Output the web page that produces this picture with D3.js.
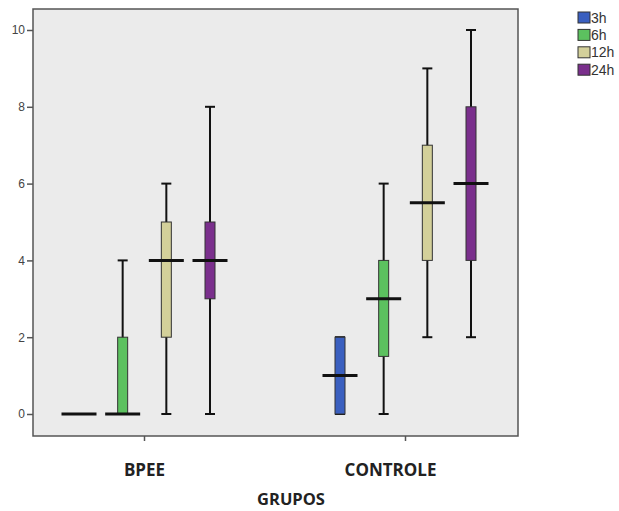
<!DOCTYPE html>
<html><head><meta charset="utf-8">
<script src="https://cdn.jsdelivr.net/npm/d3@7"></script>
<style>body{margin:0;background:#fff}</style>
</head><body>
<script>
const groups = ["BPEE", "CONTROLE"];
const series = ["3h", "6h", "12h", "24h"];
const colors = ["#3a5fbf", "#5cc15f", "#d3d09a", "#7a2f8c"];
// [min, q1, median, q3, max] per group, per series
const bpee     = [[0,0,0,0,0],[0,0,0,2,4],[0,2,4,5,6],[0,3,4,5,8]];
const controle = [[0,0,1,2,2],[0,1.5,3,4,6],[2,4,5.5,7,9],[2,4,6,8,10]];
const yTicks = [0,2,4,6,8,10];

const W = 619, H = 511;
const svg = d3.select("body").append("svg").attr("width", W).attr("height", H);
const L = 33, T = 9, R = 518, B = 436;
svg.append("rect").attr("x", L).attr("y", T).attr("width", R-L).attr("height", B-T)
  .attr("fill", "#ebebeb").attr("stroke", "#555").attr("stroke-width", 1.5);

const y = d3.scaleLinear().domain([0,10]).range([414,30]);
const x0 = d3.scaleBand().domain(groups).range([14, 536]);
const x1 = d3.scalePoint().domain(series).range([-65.5, 65.5]);

const yAx = svg.append("g").attr("transform", `translate(${L},0)`)
  .call(d3.axisLeft(y).tickValues(yTicks).tickSize(6).tickPadding(2));
yAx.select(".domain").remove();
yAx.selectAll("line").attr("stroke", "#555").attr("stroke-width", 1.5);
yAx.selectAll("text").attr("font-family", "Liberation Sans, Arial").attr("font-size", 12).attr("fill", "#444");

const xAx = svg.append("g").attr("transform", `translate(0,${B})`)
  .call(d3.axisBottom(x0).tickSize(5).tickPadding(0));
xAx.select(".domain").remove();
xAx.selectAll("line").attr("stroke", "#555").attr("stroke-width", 1.5);
const labelShift = {"BPEE": 0, "CONTROLE": -15};
xAx.selectAll("text").attr("font-family", "Open Sans").attr("font-weight", "bold")
  .attr("font-size", 17).attr("fill", "#222").attr("dy", null)
  .attr("y", 39.5).attr("dx", d => labelShift[d]);

svg.append("text").attr("x", 291).attr("y", 505).attr("text-anchor", "middle")
  .attr("font-family", "Open Sans").attr("font-weight", "bold").attr("font-size", 16.5)
  .attr("fill", "#222").text("GRUPOS");

const data = [bpee, controle];
data.forEach((gd, gi) => {
  gd.forEach((v, si) => {
    const cx = x0(groups[gi]) + x0.bandwidth()/2 + x1(series[si]);
    const g = svg.append("g");
    const [mn, q1, md, q3, mx] = v;
    if (mx > mn) {
      g.append("line").attr("x1", cx).attr("x2", cx).attr("y1", y(mn)).attr("y2", y(mx))
        .attr("stroke", "#111").attr("stroke-width", 2);
      [mn, mx].forEach(val => g.append("line").attr("x1", cx-5).attr("x2", cx+5)
        .attr("y1", y(val)).attr("y2", y(val)).attr("stroke", "#111").attr("stroke-width", 2));
    }
    if (q3 > q1) {
      g.append("rect").attr("x", cx-5).attr("y", y(q3)).attr("width", 10).attr("height", y(q1)-y(q3))
        .attr("fill", colors[si]).attr("stroke", "#333").attr("stroke-width", 1);
    }
    g.append("line").attr("x1", cx-17.5).attr("x2", cx+17.5).attr("y1", y(md)).attr("y2", y(md))
      .attr("stroke", "#111").attr("stroke-width", 3);
  });
});

const leg = svg.append("g");
series.forEach((s, i) => {
  const yy = 12 + i*17.4;
  leg.append("rect").attr("x", 578).attr("y", yy).attr("width", 12).attr("height", 11)
    .attr("fill", colors[i]).attr("stroke", "#333").attr("stroke-width", 1);
  leg.append("text").attr("x", 591).attr("y", yy+10.5).attr("font-family", "Liberation Sans, Arial")
    .attr("font-size", 14).attr("fill", "#333").text(s);
});
</script>
</body></html>
